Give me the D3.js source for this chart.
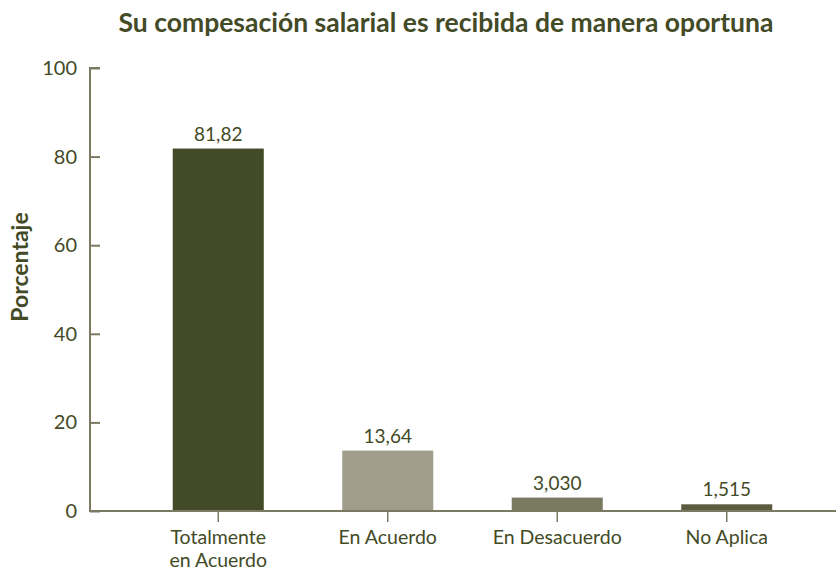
<!DOCTYPE html>
<html>
<head>
<meta charset="utf-8">
<script src="https://cdn.jsdelivr.net/npm/d3@7"></script>
<style>
  body { margin: 0; background: #fff; }
  text { font-family: Lato, "Open Sans", sans-serif; }
</style>
</head>
<body>
<div id="chart"></div>
<script>
// chart data
let categories = ["Totalmente en Acuerdo", "En Acuerdo", "En Desacuerdo", "No Aplica"];
let catLines = [["Totalmente", "en Acuerdo"], ["En Acuerdo"], ["En Desacuerdo"], ["No Aplica"]];
let values = [81.82, 13.64, 3.030, 1.515];
let valueLabels = ["81,82", "13,64", "3,030", "1,515"];
let barColors = ["#434a27", "#a09e8b", "#7a7a60", "#5b5e3e"];
let yTicks = [0, 20, 40, 60, 80, 100];

let textColor = "#434a26";
let axisColor = "#7a7a62";

let svg = d3.select('#chart').append('svg')
    .attr('width', 836)
    .attr('height', 573)

let y = d3.scaleLinear()
    .domain([0, 100])
    .range([511, 68])

let x = d3.scaleBand()
    .domain(categories)
    .range([133.5, 811.5])
    .paddingInner(0.463)
    .paddingOuter(0.2315)

// title
svg.append('text')
    .attr('x', 446)
    .attr('y', 32)
    .attr('text-anchor', 'middle')
    .attr('font-size', 26.5)
    .attr('font-weight', 'bold')
    .attr('fill', textColor)
    .text('Su compesación salarial es recibida de manera oportuna')

// y axis title
svg.append('text')
    .attr('transform', 'translate(28,267) rotate(-90)')
    .attr('text-anchor', 'middle')
    .attr('font-size', 23)
    .attr('font-weight', 'bold')
    .attr('fill', textColor)
    .text('Porcentaje')

// bars
svg.selectAll('.bar')
    .data(values)
    .enter()
    .append('rect')
    .attr('x', (d, i) => x(categories[i]))
    .attr('y', d => y(d))
    .attr('width', x.bandwidth())
    .attr('height', d => y(0) - y(d))
    .attr('fill', (d, i) => barColors[i])

// value labels
svg.selectAll('.val')
    .data(values)
    .enter()
    .append('text')
    .attr('x', (d, i) => x(categories[i]) + x.bandwidth() / 2)
    .attr('y', d => y(d) - 8)
    .attr('text-anchor', 'middle')
    .attr('font-size', 19)
    .attr('fill', textColor)
    .text((d, i) => valueLabels[i])

// y axis
let yAxis = svg.append('g')
    .attr('transform', 'translate(90,0)')
    .call(d3.axisRight(y).tickValues(yTicks).tickSize(10).tickFormat(''))
yAxis.select('.domain').attr('d', 'M10,' + y(100) + 'H0V' + y(0)).attr('stroke', axisColor).attr('stroke-width', 2)
yAxis.selectAll('.tick line').attr('stroke', axisColor).attr('stroke-width', 2)

svg.selectAll('.ytl')
    .data(yTicks)
    .enter()
    .append('text')
    .attr('x', 77)
    .attr('y', d => y(d))
    .attr('dy', '0.35em')
    .attr('text-anchor', 'end')
    .attr('font-size', 20)
    .attr('fill', textColor)
    .text(d => d)

// x axis
let xAxis = svg.append('g')
    .attr('transform', 'translate(0,' + y(0) + ')')
    .call(d3.axisBottom(x).tickSize(11).tickSizeOuter(0).tickFormat(''))
xAxis.select('.domain').attr('d', 'M89,0H836').attr('stroke', axisColor).attr('stroke-width', 2)
xAxis.selectAll('.tick line').attr('stroke', axisColor).attr('stroke-width', 1.5)

let catText = svg.selectAll('.cat')
    .data(categories)
    .enter()
    .append('text')
    .attr('text-anchor', 'middle')
    .attr('font-size', 19.5)
    .attr('fill', textColor)

catText.selectAll('tspan')
    .data((d, i) => catLines[i].map(t => ({ t: t, c: d })))
    .enter()
    .append('tspan')
    .attr('x', d => x(d.c) + x.bandwidth() / 2)
    .attr('y', (d, j) => 544 + j * 23)
    .text(d => d.t)
</script>
</body>
</html>
